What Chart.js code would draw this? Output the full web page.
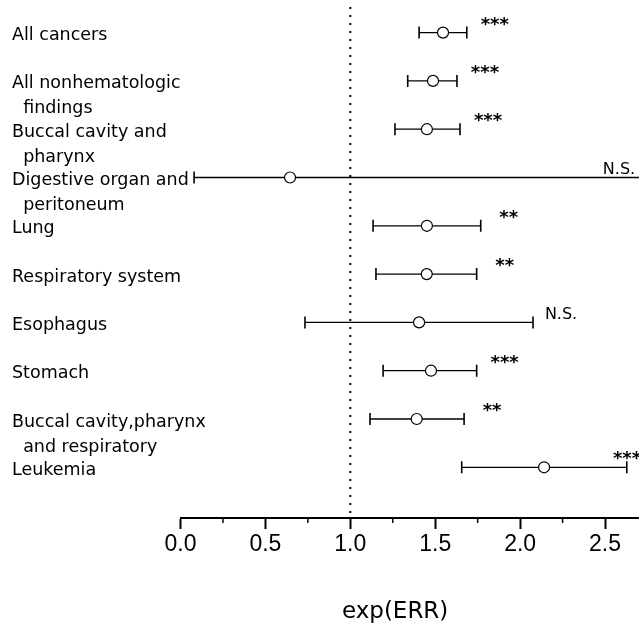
<!DOCTYPE html>
<html><head><meta charset="utf-8">
<script src="https://cdn.jsdelivr.net/npm/chart.js@4"></script>
<style>html,body{margin:0;padding:0;background:#fff;} canvas{display:block;}</style>
</head><body>
<canvas id="c" width="639" height="627"></canvas>
<script>
// ---- data ----
const categories = [
  ['All cancers'],
  ['All nonhematologic', '  findings'],
  ['Buccal cavity and', '  pharynx'],
  ['Digestive organ and', '  peritoneum'],
  ['Lung'],
  ['Respiratory system'],
  ['Esophagus'],
  ['Stomach'],
  ['Buccal cavity,pharynx', '  and respiratory'],
  ['Leukemia']
];
const estimate = [1.546, 1.487, 1.451, 0.645, 1.451, 1.450, 1.405, 1.475, 1.391, 2.141];
const lower    = [1.405, 1.338, 1.263, 0.080, 1.134, 1.151, 0.733, 1.193, 1.116, 1.656];
const upper    = [1.686, 1.628, 1.646, 2.950, 1.768, 1.744, 2.076, 1.744, 1.670, 2.628];
const significance = ['***', '***', '***', 'N.S.', '**', '**', 'N.S.', '***', '**', '***'];
const xTickValues = [0.0, 0.5, 1.0, 1.5, 2.0, 2.5];
const xMinorTickValues = [0.25, 0.75, 1.25, 1.75, 2.25];
const referenceValue = 1.0;
const xMin = 0, xMax = 2.7;
const yMin = -0.53, yMax = 10.05;

// ---- datasets ----
const pointSet = {
  type: 'scatter', order: 1,
  data: estimate.map((v, i) => ({x: v, y: i})),
  pointStyle: 'circle', radius: 5.5, backgroundColor: '#fff', borderColor: '#000', borderWidth: 1.2
};
const capSet = {
  type: 'scatter', order: 2,
  data: lower.map((v, i) => ({x: v, y: i})).concat(upper.map((v, i) => ({x: v, y: i}))),
  pointStyle: 'line', rotation: 90, radius: 6, borderColor: '#000', borderWidth: 1.6
};
const whiskerSets = categories.map((_, i) => ({
  type: 'line', order: 3,
  data: [{x: lower[i], y: i}, {x: upper[i], y: i}],
  borderColor: '#000', borderWidth: 1.3, pointRadius: 0
}));
const refSet = {
  type: 'line', order: 4,
  data: [{x: referenceValue, y: yMin}, {x: referenceValue, y: yMax}],
  borderColor: '#000', borderWidth: 2, borderDash: [2, 6], pointRadius: 0
};

const overlay = {
  id: 'overlay',
  afterDraw(chart) {
    const ctx = chart.ctx, xs = chart.scales.x, ys = chart.scales.y, area = chart.chartArea;
    ctx.save();
    // minor ticks
    ctx.strokeStyle = '#000'; ctx.lineWidth = 1.5;
    xMinorTickValues.forEach(v => {
      const px = xs.getPixelForValue(v);
      ctx.beginPath(); ctx.moveTo(px, area.bottom); ctx.lineTo(px, area.bottom + 5); ctx.stroke();
    });
    // significance marks
    ctx.fillStyle = '#000'; ctx.textAlign = 'center'; ctx.textBaseline = 'alphabetic';
    significance.forEach((s, i) => {
      const y = ys.getPixelForValue(i);
      if (s === 'N.S.') {
        const x = Math.min(xs.getPixelForValue(upper[i]) + 28, area.right - 20);
        ctx.font = '16px "DejaVu Sans"';
        ctx.fillText(s, x, y - 3);
      } else {
        const x = Math.min(xs.getPixelForValue(upper[i]) + 28, area.right - 12);
        ctx.font = 'bold 18px "DejaVu Sans"';
        ctx.fillText(s, x, y - 3);
      }
    });
    ctx.restore();
  }
};

Chart.defaults.color = '#000';
new Chart(document.getElementById('c'), {
  type: 'scatter',
  data: { datasets: [pointSet, capSet, ...whiskerSets, refSet] },
  options: {
    responsive: false, animation: false,
    layout: { autoPadding: false, padding: { top: 7, left: 12, right: 0, bottom: 0 } },
    plugins: { legend: { display: false }, tooltip: { enabled: false } },
    scales: {
      x: {
        type: 'linear', min: xMin, max: xMax,
        afterBuildTicks: s => { s.ticks = xTickValues.map(v => ({value: v})); },
        afterFit: s => { s.height = 109; s.paddingRight = 0; s.paddingLeft = 0; },
        border: { display: true, color: '#000', width: 2 },
        grid: { drawOnChartArea: false, drawTicks: true, tickLength: 11, tickColor: '#000', tickWidth: 2 },
        ticks: { color: '#000', padding: 2, maxRotation: 0, autoSkip: false,
                 font: { family: "'Liberation Sans', Arial", size: 23 },
                 callback: v => Number(v).toFixed(1) },
        title: { display: true, text: 'exp(ERR)\u00a0\u00a0\u00a0\u00a0', color: '#000',
                 font: { family: "'DejaVu Sans'", size: 23 }, padding: { top: 0, bottom: 1 } }
      },
      y: {
        type: 'linear', reverse: true, min: yMin, max: yMax,
        afterBuildTicks: s => { s.ticks = categories.map((_, i) => ({value: i})); },
        afterFit: s => { s.width = 168.5; },
        border: { display: false }, grid: { display: false },
        ticks: { color: '#000', mirror: true, crossAlign: 'near', padding: -168.5, autoSkip: false,
                 labelOffset: 3,
                 font: { family: "'DejaVu Sans'", size: 17.5, lineHeight: 25 / 17.5 },
                 callback: v => { const lab = categories[v]; return lab.length > 1 ? [''].concat(lab) : lab[0]; } }
      }
    }
  },
  plugins: [overlay]
});
</script>
</body></html>
